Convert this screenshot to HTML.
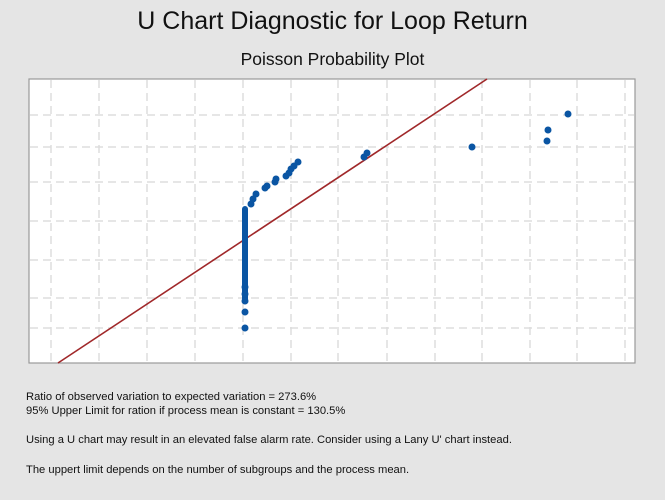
<!DOCTYPE html>
<html><head><style>
body{margin:0;background:#e5e5e5;font-family:"Liberation Sans",sans-serif;}
.w{position:relative;width:665px;height:500px;background:#e5e5e5;}
h1{position:absolute;top:7px;left:0;width:665px;text-align:center;margin:0;font-size:25px;font-weight:normal;color:#111;}
h2{position:absolute;top:49px;left:0;width:665px;text-align:center;margin:0;font-size:17.5px;font-weight:normal;color:#111;}
.t{position:absolute;left:26px;font-size:11.2px;color:#111;}
</style></head><body><div class="w">
<h1>U Chart Diagnostic for Loop Return</h1>
<h2>Poisson Probability Plot</h2>
<svg style="position:absolute;left:0;top:0" width="665" height="500">
<rect x="29" y="79" width="606" height="284" fill="#fff" stroke="#999" stroke-width="1.2"/>
<g stroke="#ddd" stroke-width="1.5" stroke-dasharray="8,5">
<line x1="51" y1="80" x2="51" y2="362"/><line x1="99" y1="80" x2="99" y2="362"/><line x1="147" y1="80" x2="147" y2="362"/><line x1="195" y1="80" x2="195" y2="362"/><line x1="243" y1="80" x2="243" y2="362"/><line x1="291" y1="80" x2="291" y2="362"/><line x1="338" y1="80" x2="338" y2="362"/><line x1="387" y1="80" x2="387" y2="362"/><line x1="435" y1="80" x2="435" y2="362"/><line x1="482" y1="80" x2="482" y2="362"/><line x1="530" y1="80" x2="530" y2="362"/><line x1="577" y1="80" x2="577" y2="362"/><line x1="625" y1="80" x2="625" y2="362"/>
<line x1="30" y1="115" x2="634" y2="115"/><line x1="30" y1="147" x2="634" y2="147"/><line x1="30" y1="182" x2="634" y2="182"/><line x1="30" y1="221" x2="634" y2="221"/><line x1="30" y1="260" x2="634" y2="260"/><line x1="30" y1="298" x2="634" y2="298"/><line x1="30" y1="328" x2="634" y2="328"/>
</g>
<line x1="58" y1="363" x2="487" y2="79" stroke="#a0282a" stroke-width="1.6"/>
<g fill="#0a55a3">
<rect x="242" y="206" width="6" height="96" rx="3"/>
<circle cx="245" cy="328" r="3.5"/><circle cx="245" cy="312" r="3.5"/><circle cx="245" cy="301" r="3.5"/><circle cx="245" cy="294" r="3.5"/><circle cx="245" cy="287" r="3.5"/>
<circle cx="251" cy="204" r="3.5"/><circle cx="253" cy="199" r="3.5"/><circle cx="256" cy="194" r="3.5"/><circle cx="265" cy="188" r="3.5"/><circle cx="267" cy="186" r="3.5"/><circle cx="275" cy="182" r="3.5"/><circle cx="276" cy="179" r="3.5"/><circle cx="286" cy="176" r="3.5"/><circle cx="289" cy="173" r="3.5"/><circle cx="291" cy="169" r="3.5"/><circle cx="294" cy="166" r="3.5"/><circle cx="298" cy="162" r="3.5"/>
<circle cx="364" cy="157" r="3.5"/><circle cx="367" cy="153" r="3.5"/><circle cx="472" cy="147" r="3.5"/><circle cx="547" cy="141" r="3.5"/><circle cx="548" cy="130" r="3.5"/><circle cx="568" cy="114" r="3.5"/>
</g>
</svg>
<div class="t" style="top:391px">Ratio of observed variation to expected variation = 273.6%</div>
<div class="t" style="top:405px">95% Upper Limit for ration if process mean is constant = 130.5%</div>
<div class="t" style="top:434px">Using a U chart may result in an elevated false alarm rate. Consider using a Lany U' chart instead.</div>
<div class="t" style="top:464px">The uppert limit depends on the number of subgroups and the process mean.</div>
</div></body></html>
